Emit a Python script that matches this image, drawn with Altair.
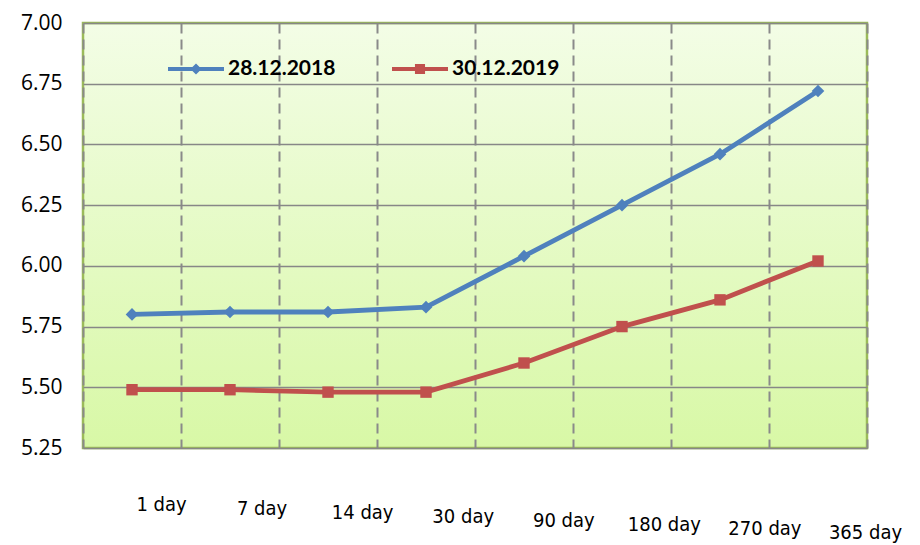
import altair as alt
import pandas as pd

terms = ["1 day", "7 day", "14 day", "30 day", "90 day", "180 day", "270 day", "365 day"]
series_names = ["28.12.2018", "30.12.2019"]
rates_2018 = [5.80, 5.81, 5.81, 5.83, 6.04, 6.25, 6.46, 6.72]
rates_2019 = [5.49, 5.49, 5.48, 5.48, 5.60, 5.75, 5.86, 6.02]
y_ticks = [5.25, 5.50, 5.75, 6.00, 6.25, 6.50, 6.75, 7.00]

rows = []
for t, v in zip(terms, rates_2018):
    rows.append({"term": t, "rate": v, "series": series_names[0]})
for t, v in zip(terms, rates_2019):
    rows.append({"term": t, "rate": v, "series": series_names[1]})
df = pd.DataFrame(rows)

W, H = 784, 425
BLUE, RED = "#4f81bd", "#c0504d"

x_enc = alt.X(
    "term:N",
    sort=terms,
    scale=alt.Scale(type="band", paddingInner=0, paddingOuter=0),
    axis=alt.Axis(
        title=None,
        grid=True,
        gridDash=[10, 6],
        gridColor="#8a8a8a",
        gridWidth=2,
        tickBand="extent",
        ticks=False,
        domain=False,
        labelAngle=0,
        labelFont="DejaVu Sans Condensed",
        labelFontSize=20,
        labelColor="#000000",
        labelBaseline="top",
        labelPadding=alt.ExprRef(expr="46 + 28*datum.index"),
        labelOffset=alt.ExprRef(expr="29 + 18*datum.index"),
    ),
)
y_enc = alt.Y(
    "rate:Q",
    scale=alt.Scale(domain=[5.25, 7.0], nice=False, zero=False),
    axis=alt.Axis(
        title=None,
        values=y_ticks,
        format=".2f",
        grid=True,
        gridColor="#878787",
        gridWidth=1.5,
        ticks=False,
        domain=False,
        labelFont="Open Sans",
        labelFontSize=21,
        labelColor="#000000",
        labelPadding=21,
    ),
)
color_scale = alt.Scale(domain=series_names, range=[BLUE, RED])

line = alt.Chart(df).mark_line(strokeWidth=4.8).encode(
    x=x_enc, y=y_enc,
    color=alt.Color("series:N", scale=color_scale, legend=None),
)

points = alt.Chart(df).mark_point(filled=True, opacity=1, strokeWidth=0).encode(
    x=x_enc, y=y_enc,
    color=alt.Color("series:N", scale=color_scale, legend=None),
    shape=alt.condition(alt.datum.series == series_names[0], alt.value("diamond"), alt.value("square")),
    size=alt.condition(alt.datum.series == series_names[0], alt.value(160), alt.value(130)),
)

bar = "M-1,-0.075L1,-0.075L1,0.075L-1,0.075Z"
sym_diamond = bar + " M0,-0.2L0.2,0L0,0.2L-0.2,0Z"
sym_square = bar + " M-0.18,-0.18L0.18,-0.18L0.18,0.18L-0.18,0.18Z"

leg = alt.Legend(
    title=None,
    orient="none",
    legendX=85,
    legendY=18,
    direction="horizontal",
    padding=0,
    symbolSize=3136,
    symbolOpacity=1,
    symbolStrokeWidth=0,
    labelFont="Lato",
    labelFontWeight="bold",
    labelFontSize=21,
    labelColor="#000000",
    labelOffset=4,
    labelLimit=300,
    columnPadding=56,
)

legend_layer = alt.Chart(df).mark_point(filled=True, opacity=0).encode(
    x=x_enc, y=y_enc,
    color=alt.Color("series:N", scale=alt.Scale(domain=series_names, range=[BLUE, RED]), legend=leg),
    shape=alt.Shape("series:N", scale=alt.Scale(domain=series_names, range=[sym_diamond, sym_square]), legend=leg),
)

chart = alt.layer(line, points, legend_layer).resolve_scale(
    color="independent", shape="independent"
).resolve_legend(
    color="independent", shape="independent"
).properties(
    width=W,
    height=H,
    autosize=alt.AutoSizeParams(type="none"),
    padding={"left": 75, "top": 15, "right": 45, "bottom": 97},
).configure_view(
    fill=alt.ExprRef(expr="{gradient: 'linear', x1: 0, y1: 0, x2: 0, y2: 1, stops: [{offset: 0, color: '#f3fde6'}, {offset: 1, color: '#d8f8a6'}]}"),
    stroke="#9bbb59",
    strokeWidth=2.5,
)

chart.save("out.html", embed_options={"renderer": "svg", "actions": False})
